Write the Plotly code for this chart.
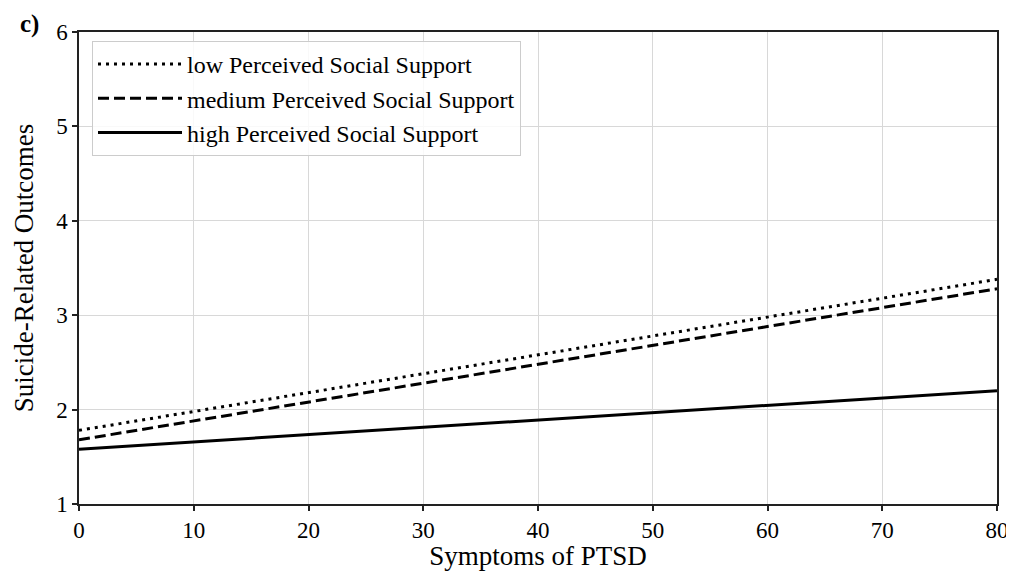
import plotly.graph_objects as go

x_vals = [0, 80]
low_pss = [1.78, 3.38]
medium_pss = [1.68, 3.28]
high_pss = [1.58, 2.20]
series_names = ["low Perceived Social Support", "medium Perceived Social Support", "high Perceived Social Support"]
x_ticks = [0, 10, 20, 30, 40, 50, 60, 70, 80]
y_ticks = [1, 2, 3, 4, 5, 6]

FONT = "Liberation Serif, Times New Roman, serif"

# The page body has an 8px default margin, so the figure is sized 8px smaller
# and margins are offset accordingly.
W, H = 1006, 563
ML, MR, MT, MB = 71, 17, 24, 67

fig = go.Figure()
fig.add_trace(go.Scatter(x=x_vals, y=low_pss, mode="lines", name=series_names[0], legendgroup="a",
                         line=dict(color="black", width=3, dash="3px,5px")))
fig.add_trace(go.Scatter(x=x_vals, y=medium_pss, mode="lines", name=series_names[1], legendgroup="b",
                         line=dict(color="black", width=3, dash="11px,5px")))
fig.add_trace(go.Scatter(x=x_vals, y=high_pss, mode="lines", name=series_names[2], legendgroup="c",
                         line=dict(color="black", width=3)))

axis_common = dict(
    showline=True, linecolor="#222", linewidth=1.5, mirror=True,
    showgrid=True, gridcolor="#d8d8d8", gridwidth=1,
    ticks="outside", ticklen=5, tickwidth=1.5, tickcolor="#222",
    zeroline=False, automargin=False,
    tickfont=dict(family=FONT, size=23, color="black"),
)

fig.update_xaxes(range=[0, 80], tickvals=x_ticks,
                 title=dict(text="Symptoms of PTSD", font=dict(family=FONT, size=27, color="black"), standoff=0),
                 **axis_common)
fig.update_yaxes(range=[1, 6], tickvals=y_ticks,
                 title=dict(text="Suicide-Related Outcomes", font=dict(family=FONT, size=27, color="black"), standoff=15),
                 **axis_common)

plot_w = W - ML - MR
plot_h = H - MT - MB

fig.update_layout(
    width=W, height=H,
    margin=dict(l=ML, r=MR, t=MT, b=MB, pad=0),
    paper_bgcolor="white", plot_bgcolor="white",
    font=dict(family=FONT, color="black"),
    legend=dict(x=(84 - ML) / plot_w, y=1 - (33 - MT) / plot_h, xanchor="left", yanchor="top",
                bgcolor="rgba(255,255,255,0.85)", bordercolor="#cccccc", borderwidth=1,
                font=dict(family=FONT, size=24, color="black"),
                itemwidth=84, tracegroupgap=0),
    showlegend=True,
    annotations=[dict(text="<b>c)</b>", xref="paper", yref="paper",
                      x=(10 - ML) / plot_w, y=1 + (MT) / plot_h,
                      xanchor="left", yanchor="top", showarrow=False,
                      font=dict(family=FONT, size=25, color="black"))],
)

fig.write_html("out.html")
